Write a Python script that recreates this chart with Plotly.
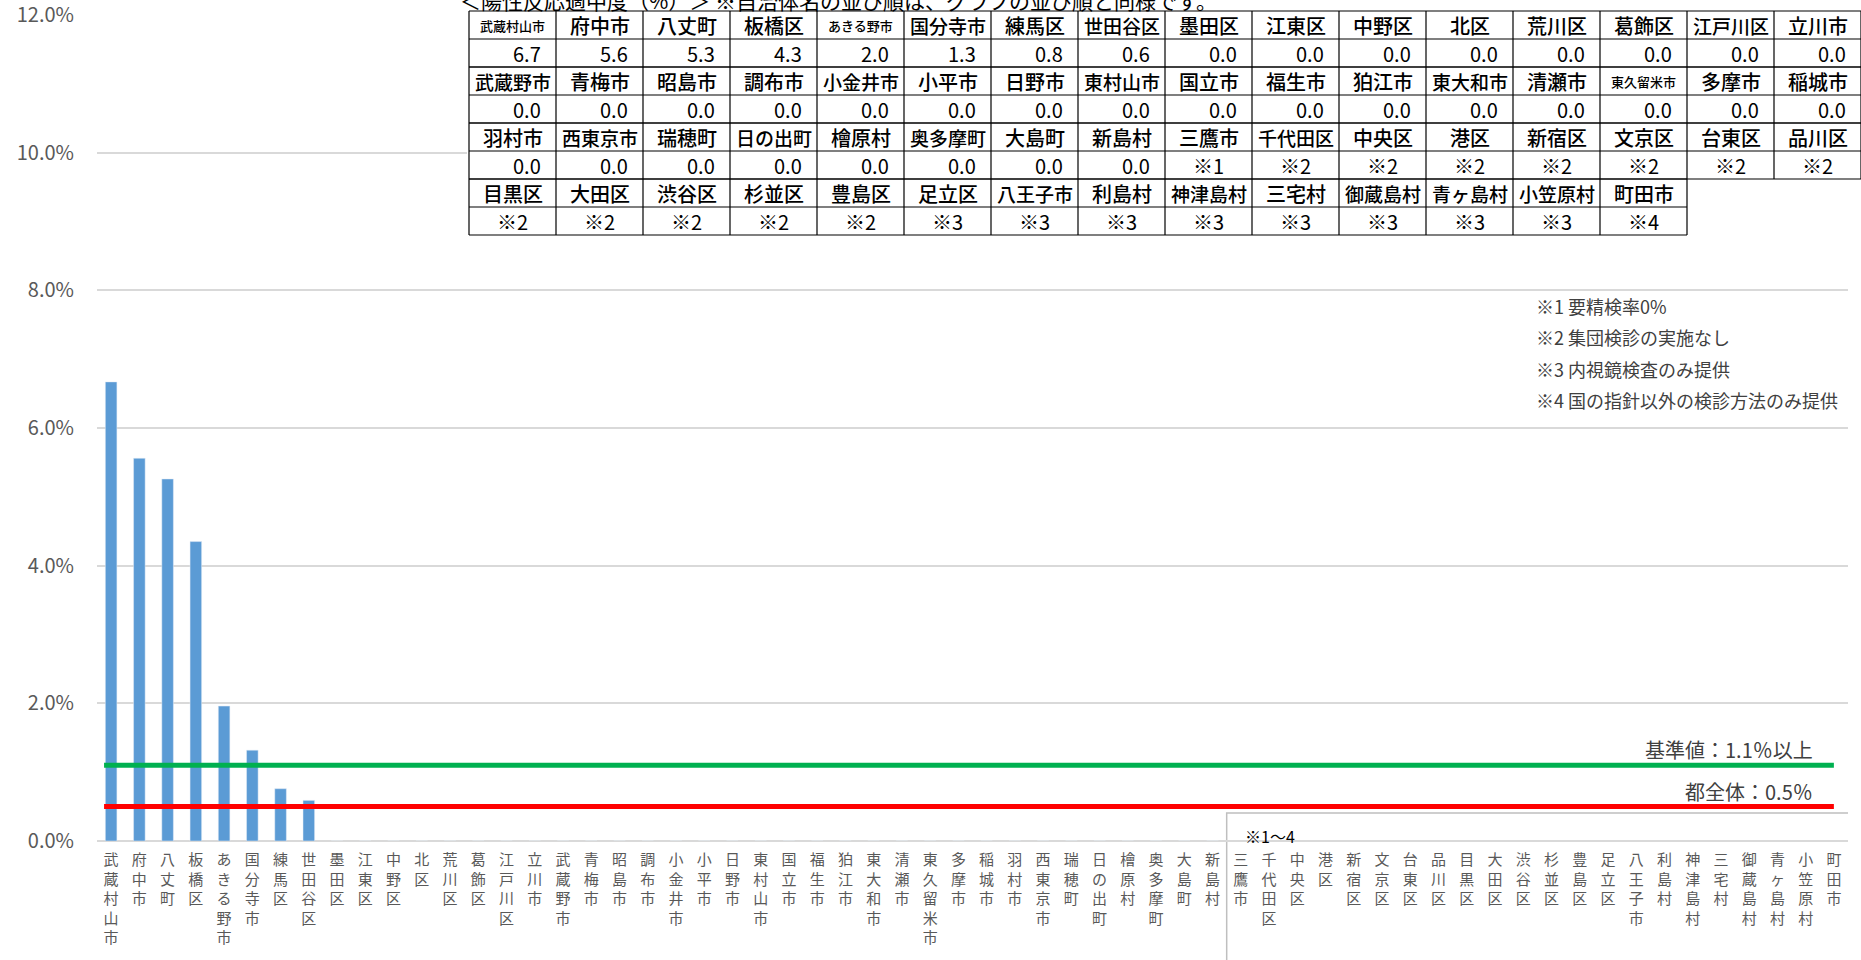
import plotly.graph_objects as go

categories = ["武蔵村山市", "府中市", "八丈町", "板橋区", "あきる野市", "国分寺市", "練馬区", "世田谷区",
              "墨田区", "江東区", "中野区", "北区", "荒川区", "葛飾区", "江戸川区", "立川市",
              "武蔵野市", "青梅市", "昭島市", "調布市", "小金井市", "小平市", "日野市", "東村山市",
              "国立市", "福生市", "狛江市", "東大和市", "清瀬市", "東久留米市", "多摩市", "稲城市",
              "羽村市", "西東京市", "瑞穂町", "日の出町", "檜原村", "奥多摩町", "大島町", "新島村",
              "三鷹市", "千代田区", "中央区", "港区", "新宿区", "文京区", "台東区", "品川区",
              "目黒区", "大田区", "渋谷区", "杉並区", "豊島区", "足立区", "八王子市", "利島村",
              "神津島村", "三宅村", "御蔵島村", "青ヶ島村", "小笠原村", "町田市"]

values = [6.67, 5.56, 5.26, 4.35, 1.96, 1.32, 0.76, 0.59,
          0, 0, 0, 0, 0, 0, 0, 0,
          0, 0, 0, 0, 0, 0, 0, 0,
          0, 0, 0, 0, 0, 0, 0, 0,
          0, 0, 0, 0, 0, 0, 0, 0,
          None, None, None, None, None, None, None, None,
          None, None, None, None, None, None, None, None,
          None, None, None, None, None, None]

table_labels = ["6.7", "5.6", "5.3", "4.3", "2.0", "1.3", "0.8", "0.6",
                "0.0", "0.0", "0.0", "0.0", "0.0", "0.0", "0.0", "0.0",
                "0.0", "0.0", "0.0", "0.0", "0.0", "0.0", "0.0", "0.0",
                "0.0", "0.0", "0.0", "0.0", "0.0", "0.0", "0.0", "0.0",
                "0.0", "0.0", "0.0", "0.0", "0.0", "0.0", "0.0", "0.0",
                "※1", "※2", "※2", "※2", "※2", "※2", "※2", "※2",
                "※2", "※2", "※2", "※2", "※2", "※3", "※3", "※3",
                "※3", "※3", "※3", "※3", "※3", "※4"]

criterion_value = 1.1
tokyo_value = 0.5
criterion_label = "基準値：1.1％以上"
tokyo_label = "都全体：0.5％"
title_text = "＜陽性反応適中度（%）＞ ※自治体名の並び順は、グラフの並び順と同様です。"
notes = ["※1 要精検率0%", "※2 集団検診の実施なし", "※3 内視鏡検査のみ提供", "※4 国の指針以外の検診方法のみ提供"]
box_label = "※1～4"
yticks = [0, 2, 4, 6, 8, 10, 12]
yticklabels = ["0.0%", "2.0%", "4.0%", "6.0%", "8.0%", "10.0%", "12.0%"]

FONT = "Noto Sans CJK JP"
W, H = 1861, 960
ML, MR, MT, MB = 97, 0, 0, 119
PW, PH = W - ML - MR, H - MT - MB

def px_x(p):
    return (p - ML) / PW

def px_y(p):
    return 1 - (p - MT) / PH

ticktext = ["<br>".join(list(c)) for c in categories]
N = len(categories)

fig = go.Figure()
fig.add_trace(go.Bar(x=list(range(N)), y=values, marker_color="#5B9BD5",
                     width=0.41, showlegend=False, xaxis="x", yaxis="y"))
xs = [-0.25, N - 1]
fig.add_trace(go.Scatter(x=xs, y=[criterion_value] * 2, mode="lines",
                         line=dict(color="#00B050", width=5), showlegend=False))
fig.add_trace(go.Scatter(x=xs, y=[tokyo_value] * 2, mode="lines",
                         line=dict(color="#FF0000", width=5), showlegend=False))

# ---- table on its own hidden axes (x2: columns, y2: rows) ----
NC = 16
NR = (N + NC - 1) // NC
ROWH = 28
TOP = 11
TAB_X0 = 469
COLW = 87
ex = 2 / COLW
ey = 2 / ROWH
fig.update_layout(
    xaxis2=dict(domain=[px_x(TAB_X0 - 2), 1], range=[-ex, NC], visible=False, anchor="y2",
                fixedrange=True),
    yaxis2=dict(domain=[px_y(TOP + 2 * NR * ROWH + 2), px_y(TOP - 2)], range=[2 * NR + ey, -ey],
                visible=False, anchor="x2", fixedrange=True),
)
shapes = []
ann = []
for r in range(NR):
    idx = list(range(r * NC, min((r + 1) * NC, N)))
    ncol = len(idx)
    shapes.append(dict(type="rect", xref="x2", yref="y2", x0=0, x1=ncol, y0=2 * r, y1=2 * r + 2,
                       fillcolor="white", line=dict(width=0), layer="above"))
for r in range(NR):
    idx = list(range(r * NC, min((r + 1) * NC, N)))
    ncol = len(idx)
    for sub in range(2):
        row = 2 * r + sub
        shapes.append(dict(type="line", xref="x2", yref="y2", x0=0, x1=ncol, y0=row, y1=row,
                           line=dict(color="black", width=1.2), layer="above"))
    shapes.append(dict(type="line", xref="x2", yref="y2", x0=0, x1=ncol, y0=2 * r + 2, y1=2 * r + 2,
                       line=dict(color="black", width=1.2), layer="above"))
    for c in range(ncol + 1):
        shapes.append(dict(type="line", xref="x2", yref="y2", x0=c, x1=c, y0=2 * r, y1=2 * r + 2,
                           line=dict(color="black", width=1.2), layer="above"))
    for c, k in enumerate(idx):
        name = categories[k]
        nsize = 13 if len(name) >= 5 else (19 if len(name) == 4 else 20)
        ann.append(dict(text=name, x=c + 0.5, y=2 * r + 0.5, xref="x2", yref="y2",
                        xanchor="center", yanchor="middle", showarrow=False,
                        font=dict(family=FONT, size=nsize, color="black", weight=500)))
        lab = table_labels[k]
        if lab.startswith("※"):
            ann.append(dict(text=lab, x=c + 0.5, y=2 * r + 1.5, xref="x2", yref="y2",
                            xanchor="center", yanchor="middle", showarrow=False,
                            font=dict(family=FONT, size=20, color="black")))
        else:
            ann.append(dict(text=lab, x=c + 1, y=2 * r + 1.5, xref="x2", yref="y2",
                            xanchor="right", yanchor="middle", xshift=-13, showarrow=False,
                            font=dict(family=FONT, size=20, color="black")))

fig.update_layout(
    width=W, height=H,
    margin=dict(l=ML, r=MR, t=MT, b=MB, autoexpand=False),
    paper_bgcolor="white", plot_bgcolor="white",
    xaxis=dict(domain=[0, px_x(1848)], range=[-0.5, N - 0.5], automargin=False,
               tickmode="array", tickvals=list(range(N)), ticktext=ticktext,
               tickangle=0, tickfont=dict(family=FONT, size=15, color="#595959"),
               ticklabelstandoff=8, ticklabeloverflow="allow",
               showgrid=False, showline=False, zeroline=False, ticks="", fixedrange=True),
    yaxis=dict(domain=[0, px_y(15)], range=[0, 12], automargin=False,
               tickmode="array", tickvals=yticks, ticktext=yticklabels,
               tickfont=dict(family=FONT, size=20, color="#595959"), ticklabeloverflow="allow",
               gridcolor="#D9D9D9", gridwidth=1.5, zeroline=True, zerolinecolor="#D9D9D9",
               zerolinewidth=1.5, showline=False, ticks="", ticklabelstandoff=22, fixedrange=True),
    font=dict(family=FONT),
)

ann.append(dict(text=criterion_label, x=N - 1, y=criterion_value, xref="x", yref="y",
                xanchor="right", yanchor="bottom", xshift=-19, yshift=-1, showarrow=False,
                font=dict(family=FONT, size=20, color="#404040")))
ann.append(dict(text=tokyo_label, x=N - 1, y=tokyo_value, xref="x", yref="y",
                xanchor="right", yanchor="bottom", xshift=-19, yshift=-1, showarrow=False,
                font=dict(family=FONT, size=20, color="#404040")))
for i, t in enumerate(notes):
    ann.append(dict(text=t, x=px_x(1534), y=px_y(306 + 31.3 * i), xref="paper", yref="paper",
                    xanchor="left", yanchor="middle", showarrow=False,
                    font=dict(family=FONT, size=18, color="#404040")))
ann.append(dict(text=title_text, x=px_x(458), y=1, xref="paper", yref="paper",
                xanchor="left", yanchor="middle", yshift=0, showarrow=False,
                font=dict(family=FONT, size=21, color="black")))
ann.append(dict(text=box_label, x=39.5, y=0, xref="x", yref="paper", xanchor="left", yanchor="middle",
                xshift=16, yshift=5, showarrow=False, font=dict(family=FONT, size=16, color="black")))

shapes.append(dict(type="rect", xref="x", yref="paper", x0=39.5, x1=N + 2,
                   y0=-0.5, y1=(841 - 813) / PH,
                   line=dict(color="#BFBFBF", width=1.5), fillcolor="rgba(0,0,0,0)", layer="below"))
fig.update_layout(annotations=ann, shapes=shapes)

fig.write_html("out.html", config={"displayModeBar": False},
               post_script="document.body.style.margin='0';document.body.style.overflow='hidden';")
